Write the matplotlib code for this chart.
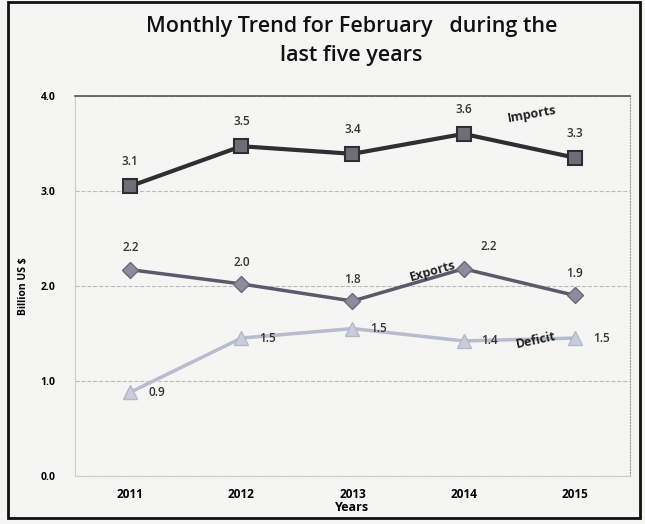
import matplotlib.pyplot as plt
from matplotlib.patches import Rectangle

plt.rcParams['font.family'] = ['Open Sans', 'DejaVu Sans']

years = ['2011', '2012', '2013', '2014', '2015']
imports = [3.05, 3.47, 3.39, 3.60, 3.35]
exports = [2.17, 2.02, 1.84, 2.18, 1.90]
deficit = [0.88, 1.45, 1.55, 1.42, 1.45]
imports_lbl = ['3.1', '3.5', '3.4', '3.6', '3.3']
exports_lbl = ['2.2', '2.0', '1.8', '2.2', '1.9']
deficit_lbl = ['0.9', '1.5', '1.5', '1.4', '1.5']

fig = plt.figure(figsize=(6.45, 5.24), dpi=100)
fig.patch.set_facecolor('#f5f5f3')
fig.patches.append(Rectangle((0.013, 0.012), 0.98, 0.984, transform=fig.transFigure,
                             fill=False, edgecolor='#111111', linewidth=2))

ax = fig.add_axes([0.116, 0.092, 0.861, 0.725])
ax.set_facecolor('#f5f5f3')
x = range(len(years))

ax.plot(x, imports, color='#2e2e33', linewidth=3, marker='s', markersize=10,
        markerfacecolor='#6e6e78', markeredgecolor='#2e2e33', markeredgewidth=1.5)
ax.plot(x, exports, color='#5a5a6a', linewidth=2.5, marker='D', markersize=8.5,
        markerfacecolor='#8c8c9c', markeredgecolor='#6a6a7a')
ax.plot(x, deficit, color='#b8bccd', linewidth=2.5, marker='^', markersize=10,
        markerfacecolor='#c8ccdb', markeredgecolor='#b4b8c9')

for i in x:
    ax.annotate(imports_lbl[i], (i, imports[i]), xytext=(0, 13), textcoords='offset points',
                ha='center', va='bottom', fontsize=8.5, fontweight='semibold', color='#333333')
    dx = 18 if i == 3 else 0
    ax.annotate(exports_lbl[i], (i, exports[i]), xytext=(dx, 11), textcoords='offset points',
                ha='center', va='bottom', fontsize=8.5, fontweight='semibold', color='#333333')
    ax.annotate(deficit_lbl[i], (i, deficit[i]), xytext=(13, 0), textcoords='offset points',
                ha='left', va='center', fontsize=8.5, fontweight='semibold', color='#333333')

ax.text(3.62, 3.72, 'Imports', rotation=10, fontsize=9, fontweight='bold', ha='center', color='#222222')
ax.text(2.72, 2.05, 'Exports', rotation=16, fontsize=9, fontweight='bold', ha='center', color='#222222')
ax.text(3.65, 1.35, 'Deficit', rotation=12, fontsize=9, fontweight='bold', ha='center', color='#222222')

ax.set_xlim(-0.5, 4.5)
ax.set_ylim(0, 4)
ax.set_yticks([0, 1, 2, 3, 4])
ax.set_yticklabels(['0.0', '1.0', '2.0', '3.0', '4.0'], fontsize=7.5, fontweight='bold')
ax.set_xticks(list(x))
ax.set_xticklabels(years, fontsize=8.5, fontweight='bold')
ax.tick_params(axis='both', length=0, pad=14)
ax.tick_params(axis='x', pad=9)
ax.grid(axis='y', color='#bbbbbb', linestyle='--', linewidth=0.8)
ax.set_axisbelow(True)
for s in ['left', 'bottom']:
    ax.spines[s].set_color('#cccccc')
ax.spines['top'].set_color('#555555')
ax.spines['top'].set_linewidth(1.2)
ax.spines['right'].set_color('#999999')
ax.spines['right'].set_linestyle(':')

ax.set_xlabel('Years', fontsize=9, fontweight='bold', labelpad=0)
ax.set_ylabel('Billion US $', fontsize=7.5, fontweight='bold', labelpad=8)
fig.text(0.545, 0.97, 'Monthly Trend for February   during the\nlast five years',
         ha='center', va='top', fontsize=15.5, fontweight='semibold', linespacing=1.5,
         color='#111111')

fig.savefig('out.png', dpi=100, facecolor=fig.get_facecolor())
